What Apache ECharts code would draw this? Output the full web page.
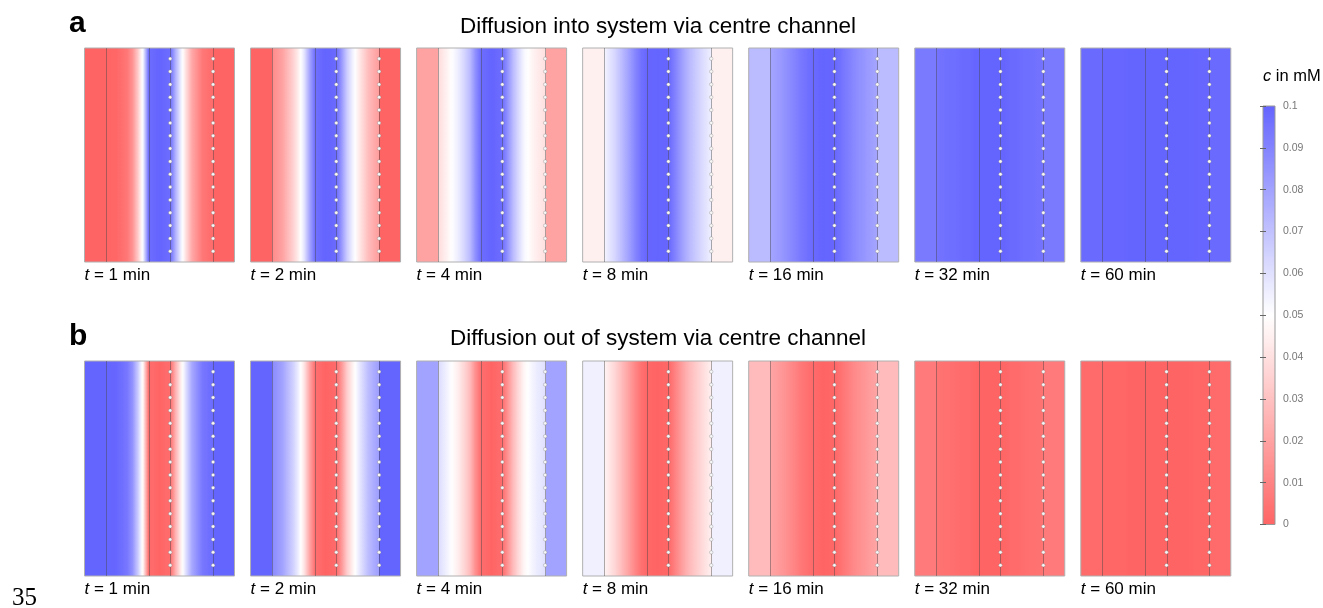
<!DOCTYPE html>
<html>
<head>
<meta charset="utf-8">
<title>Diffusion via centre channel</title>
<script src="https://cdn.jsdelivr.net/npm/echarts@6/dist/echarts.min.js"></script>
<style>
    html, body { margin: 0; padding: 0; background: #fff; }
    #chart { width: 1323px; height: 608px; }
</style>
</head>
<body>
<div id="chart"></div>
<script>
// time points (min)
var TIMES = ['1', '2', '4', '8', '16', '32', '60'];

// positions across the device (arbitrary units, 0..7); repeated values = wall with a jump
var POS = [0, 1, 1, 1.5, 2, 2.25, 2.5, 2.75, 3, 3.5, 4, 4.25, 4.5, 4.75, 5, 5.5, 6, 6, 7];
var WALLS = [1, 3, 4, 6];
var PORE_X = [4, 6];
var PORE_Y = [0.05, 0.11, 0.17, 0.23, 0.29, 0.35, 0.41, 0.47, 0.53, 0.59, 0.65, 0.71, 0.77, 0.83, 0.89, 0.95];

// concentration c (mM) at POS, row a: diffusion into system
var INTO_1 = [0, 0, 0, 0.001, 0.006, 0.015, 0.033, 0.055, 0.097, 0.1, 0.097, 0.075, 0.055, 0.038, 0.022, 0.006, 0.002, 0, 0];
var INTO_2 = [0, 0, 0.012, 0.02, 0.035, 0.045, 0.058, 0.078, 0.096, 0.1, 0.098, 0.083, 0.066, 0.055, 0.045, 0.028, 0.018, 0, 0];
var INTO_4 = [0.02, 0.02, 0.038, 0.047, 0.057, 0.064, 0.072, 0.086, 0.097, 0.1, 0.097, 0.085, 0.072, 0.062, 0.053, 0.045, 0.04, 0.02, 0.02];
var INTO_8 = [0.045, 0.045, 0.053, 0.063, 0.076, 0.083, 0.09, 0.096, 0.099, 0.1, 0.099, 0.092, 0.085, 0.078, 0.072, 0.063, 0.055, 0.045, 0.045];
var INTO_16 = [0.072, 0.072, 0.079, 0.083, 0.088, 0.091, 0.094, 0.096, 0.098, 0.1, 0.099, 0.096, 0.093, 0.09, 0.087, 0.083, 0.079, 0.072, 0.072];
var INTO_32 = [0.093, 0.093, 0.095, 0.096, 0.097, 0.098, 0.098, 0.099, 0.1, 0.1, 0.1, 0.099, 0.098, 0.098, 0.097, 0.096, 0.095, 0.093, 0.093];
var INTO_60 = [0.098, 0.098, 0.099, 0.099, 0.099, 0.1, 0.1, 0.1, 0.1, 0.1, 0.1, 0.1, 0.1, 0.1, 0.1, 0.099, 0.099, 0.098, 0.098];

// row b: diffusion out of system
var OUT_1 = [0.1, 0.1, 0.1, 0.099, 0.094, 0.085, 0.067, 0.045, 0.003, 0, 0.003, 0.025, 0.045, 0.062, 0.078, 0.094, 0.098, 0.1, 0.1];
var OUT_2 = [0.1, 0.1, 0.088, 0.08, 0.065, 0.055, 0.042, 0.022, 0.004, 0, 0.002, 0.017, 0.034, 0.045, 0.055, 0.072, 0.082, 0.1, 0.1];
var OUT_4 = [0.08, 0.08, 0.062, 0.053, 0.043, 0.036, 0.028, 0.014, 0.003, 0, 0.003, 0.015, 0.028, 0.038, 0.047, 0.055, 0.06, 0.08, 0.08];
var OUT_8 = [0.055, 0.055, 0.047, 0.037, 0.024, 0.017, 0.01, 0.004, 0.001, 0, 0.001, 0.008, 0.015, 0.022, 0.028, 0.037, 0.045, 0.055, 0.055];
var OUT_16 = [0.028, 0.028, 0.021, 0.017, 0.012, 0.009, 0.006, 0.004, 0.002, 0, 0.001, 0.004, 0.007, 0.01, 0.013, 0.017, 0.021, 0.028, 0.028];
var OUT_32 = [0.007, 0.007, 0.005, 0.004, 0.003, 0.002, 0.002, 0.001, 0, 0, 0, 0.001, 0.002, 0.002, 0.003, 0.004, 0.005, 0.007, 0.007];
var OUT_60 = [0.002, 0.002, 0.001, 0.001, 0.001, 0, 0, 0, 0, 0, 0, 0, 0, 0, 0, 0.001, 0.001, 0.002, 0.002];

var ROWS = [
    [INTO_1, INTO_2, INTO_4, INTO_8, INTO_16, INTO_32, INTO_60],
    [OUT_1, OUT_2, OUT_4, OUT_8, OUT_16, OUT_32, OUT_60]
];

var C_MIN = 0, C_MAX = 0.1, C_STEP = 0.01;
var PALETTE = ['#ff6464', '#ffffff', '#6464ff'];

// layout
var PANEL_X0 = 84.5, PANEL_DX = 166.05, PANEL_W = 150;
var ROW_TOP = [48, 361], ROW_H = [214, 215];
var FONT = '"Liberation Sans", Arial, sans-serif';

function colorOf(c) {
    var t = (c - C_MIN) / (C_MAX - C_MIN);
    return echarts.color.lerp(Math.max(0, Math.min(1, t)), PALETTE);
}

function clamp01(v) {
    return Math.max(0, Math.min(1, v));
}

// one rect per panel, filled with a gradient built from the profile
function panelFill(profile) {
    return function (params, api) {
        var p0 = api.coord([api.value(0), 1]);
        var p1 = api.coord([api.value(1), 0]);
        var w = p1[0] - p0[0];
        var stops = [];
        for (var k = 0; k < POS.length; k++) {
            var off = clamp01((api.coord([POS[k], 0])[0] - p0[0]) / w);
            if (k > 0 && POS[k] !== POS[k - 1]) {
                var a = profile[k - 1], b = profile[k];
                var o0 = stops[stops.length - 1].offset;
                for (var s = 1; s < 5; s++) {
                    var t = s / 5;
                    stops.push({ offset: clamp01(o0 + (off - o0) * t), color: colorOf(a + (b - a) * t) });
                }
            }
            stops.push({ offset: off, color: colorOf(profile[k]) });
        }
        return {
            type: 'rect',
            shape: { x: p0[0], y: p0[1], width: w, height: p1[1] - p0[1] },
            style: {
                fill: new echarts.graphic.LinearGradient(0, 0, 1, 0, stops),
                stroke: '#b0b0b0',
                lineWidth: 1
            }
        };
    };
}

function wallLine(params, api) {
    var a = api.coord([api.value(0), 0]);
    var b = api.coord([api.value(0), 1]);
    var x = Math.round(a[0]) + 0.5;
    return {
        type: 'line',
        shape: { x1: x, y1: a[1], x2: x, y2: b[1] },
        style: { stroke: 'rgba(70,70,70,0.45)', lineWidth: 1 }
    };
}

var poreData = [];
PORE_X.forEach(function (x) {
    PORE_Y.forEach(function (y) { poreData.push([x, y]); });
});

var grids = [], xAxes = [], yAxes = [], series = [];

ROWS.forEach(function (row, r) {
    row.forEach(function (profile, i) {
        var idx = grids.length;
        grids.push({
            left: PANEL_X0 + i * PANEL_DX,
            top: ROW_TOP[r],
            width: PANEL_W,
            height: ROW_H[r]
        });
        xAxes.push({
            gridIndex: idx,
            type: 'value',
            min: 0,
            max: 7,
            interval: 7,
            axisLine: { show: false },
            axisTick: { show: false },
            splitLine: { show: false },
            axisLabel: {
                margin: 5,
                align: 'left',
                color: '#000',
                fontSize: 17,
                fontFamily: FONT,
                formatter: function (v) {
                    return v === 0 ? '{i|t} = ' + TIMES[i] + ' min' : '';
                },
                rich: {
                    i: { fontStyle: 'italic', fontSize: 17, fontFamily: FONT, color: '#000' }
                }
            }
        });
        yAxes.push({ gridIndex: idx, type: 'value', min: 0, max: 1, show: false });

        series.push({
            type: 'custom',
            xAxisIndex: idx,
            yAxisIndex: idx,
            silent: true,
            renderItem: panelFill(profile),
            data: [[0, 7]],
            z: 1
        });
        series.push({
            type: 'custom',
            xAxisIndex: idx,
            yAxisIndex: idx,
            silent: true,
            renderItem: wallLine,
            data: WALLS.map(function (x) { return [x]; }),
            z: 2
        });
        series.push({
            type: 'scatter',
            xAxisIndex: idx,
            yAxisIndex: idx,
            silent: true,
            symbolSize: 3.5,
            itemStyle: { color: '#f6f6f6', borderColor: 'rgba(110,110,110,0.6)', borderWidth: 0.5, opacity: 1 },
            data: poreData,
            z: 3
        });
    });
});

// colour bar
var cbIdx = grids.length;
grids.push({ left: 1263, top: 106, width: 12, height: 418.5 });
xAxes.push({ gridIndex: cbIdx, type: 'value', min: 0, max: 1, show: false });
yAxes.push({
    gridIndex: cbIdx,
    type: 'value',
    position: 'right',
    min: C_MIN,
    max: C_MAX,
    interval: C_STEP,
    axisLine: { show: false },
    splitLine: { show: false },
    axisTick: { inside: true, length: 3, lineStyle: { color: '#666', width: 1 } },
    axisLabel: { color: '#777', fontSize: 10.5, fontFamily: FONT, margin: 8 },
    z: 5
});
yAxes.push({
    gridIndex: cbIdx,
    type: 'value',
    position: 'left',
    min: C_MIN,
    max: C_MAX,
    interval: C_STEP,
    axisLine: { show: false },
    splitLine: { show: false },
    axisTick: { inside: true, length: 3, lineStyle: { color: '#666', width: 1 } },
    axisLabel: { show: false },
    z: 5
});

series.push({
    type: 'custom',
    xAxisIndex: cbIdx,
    yAxisIndex: yAxes.length - 2,
    silent: true,
    data: [[C_MIN, C_MAX]],
    renderItem: function (params, api) {
        var top = api.coord([0, api.value(1)]);
        var bot = api.coord([1, api.value(0)]);
        var stops = [];
        for (var k = 0; k <= 20; k++) {
            var v = C_MAX - (C_MAX - C_MIN) * k / 20;
            var off = clamp01((api.coord([0, v])[1] - top[1]) / (bot[1] - top[1]));
            stops.push({ offset: off, color: colorOf(v) });
        }
        return {
            type: 'rect',
            shape: { x: top[0], y: top[1], width: bot[0] - top[0], height: bot[1] - top[1] },
            style: {
                fill: new echarts.graphic.LinearGradient(0, 0, 0, 1, stops),
                stroke: '#999',
                lineWidth: 1
            }
        };
    },
    z: 1
});

var chart = echarts.init(document.getElementById('chart'), null, { renderer: 'canvas' });

chart.setOption({
    backgroundColor: '#fff',
    animation: false,
    grid: grids,
    xAxis: xAxes,
    yAxis: yAxes,
    series: series,
    graphic: [
        { type: 'text', x: 69, y: 23.5, style: { text: 'a', font: 'bold 30px ' + FONT, fill: '#000', verticalAlign: 'middle' } },
        { type: 'text', x: 69, y: 337, style: { text: 'b', font: 'bold 30px ' + FONT, fill: '#000', verticalAlign: 'middle' } },
        { type: 'text', x: 658, y: 27, style: { text: 'Diffusion into system via centre channel', font: '22.5px ' + FONT, fill: '#000', align: 'center', verticalAlign: 'middle' } },
        { type: 'text', x: 658, y: 338.5, style: { text: 'Diffusion out of system via centre channel', font: '22.5px ' + FONT, fill: '#000', align: 'center', verticalAlign: 'middle' } },
        {
            type: 'text', x: 1263, y: 76,
            style: {
                text: '{i|c} in mM',
                font: '16.5px ' + FONT,
                fill: '#000',
                verticalAlign: 'middle',
                rich: { i: { fontStyle: 'italic', fontSize: 16.5, fontFamily: FONT, fill: '#000' } }
            }
        },
        { type: 'text', x: 12, y: 598, style: { text: '35', font: '25px "Liberation Serif", "Times New Roman", serif', fill: '#000', verticalAlign: 'middle' } }
    ]
});
</script>
</body>
</html>
